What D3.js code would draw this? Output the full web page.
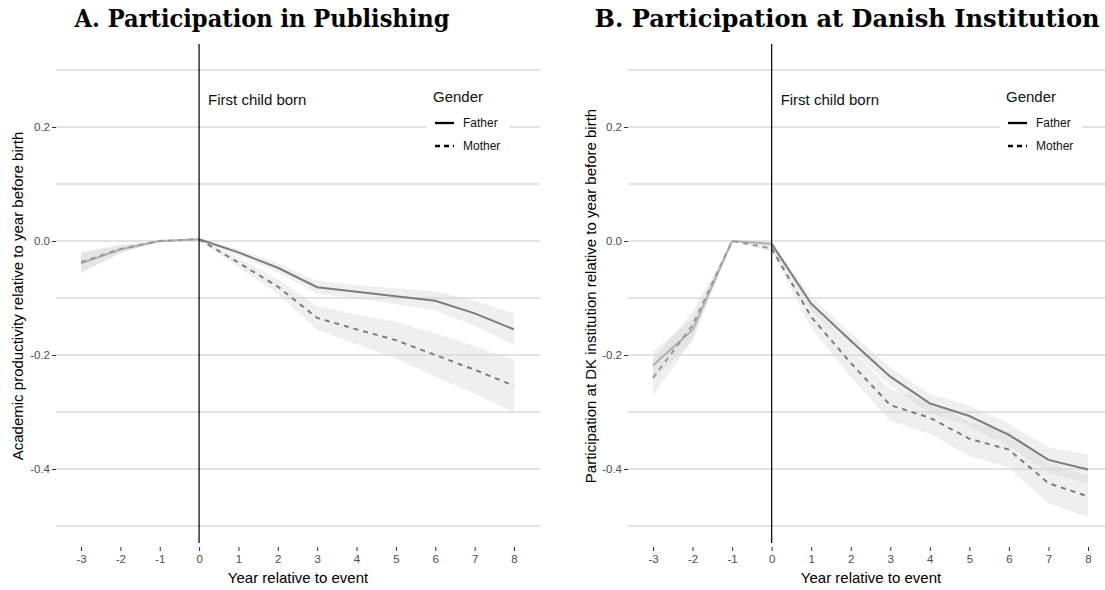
<!DOCTYPE html>
<html><head><meta charset="utf-8">
<script src="https://cdn.jsdelivr.net/npm/d3@7"></script>
<style>body{margin:0;background:#fff}svg{display:block}</style>
</head><body>
<svg id="c" width="1105" height="590"></svg>
<script>
const years = [-3,-2,-1,0,1,2,3,4,5,6,7,8];
const yTicks = [0.2,0.0,-0.2,-0.4];
const yGrid = [0.3,0.2,0.1,0.0,-0.1,-0.2,-0.3,-0.4,-0.5];
const genders = ["Father","Mother"];

// Panel A: Participation in Publishing
const pubFather   = [-0.039,-0.015,0,0.003,-0.020,-0.047,-0.081,-0.089,-0.097,-0.105,-0.127,-0.155];
const pubFatherLo = [-0.056,-0.022,0,0.001,-0.026,-0.055,-0.092,-0.101,-0.111,-0.122,-0.149,-0.183];
const pubFatherHi = [-0.022,-0.008,0,0.005,-0.014,-0.039,-0.070,-0.077,-0.083,-0.088,-0.105,-0.127];
const pubMother   = [-0.037,-0.014,0,0.003,-0.038,-0.080,-0.135,-0.155,-0.174,-0.200,-0.226,-0.254];
const pubMotherLo = [-0.055,-0.021,0,0.001,-0.046,-0.093,-0.156,-0.181,-0.206,-0.238,-0.268,-0.300];
const pubMotherHi = [-0.019,-0.007,0,0.005,-0.030,-0.067,-0.114,-0.129,-0.142,-0.162,-0.184,-0.208];

// Panel B: Participation at Danish Institution
const dkFather   = [-0.218,-0.156,0,-0.005,-0.110,-0.175,-0.238,-0.285,-0.307,-0.340,-0.384,-0.401];
const dkFatherLo = [-0.243,-0.176,0,-0.009,-0.122,-0.189,-0.254,-0.302,-0.325,-0.360,-0.406,-0.427];
const dkFatherHi = [-0.193,-0.136,0,-0.001,-0.098,-0.161,-0.222,-0.268,-0.289,-0.320,-0.362,-0.375];
const dkMother   = [-0.240,-0.148,0,-0.013,-0.133,-0.214,-0.288,-0.310,-0.347,-0.366,-0.425,-0.448];
const dkMotherLo = [-0.272,-0.172,0,-0.019,-0.153,-0.238,-0.316,-0.338,-0.377,-0.398,-0.460,-0.484];
const dkMotherHi = [-0.208,-0.124,0,-0.007,-0.113,-0.190,-0.260,-0.282,-0.317,-0.334,-0.390,-0.412];

const panels = [
  {title:"A. Participation in Publishing", ylab:"Academic productivity relative to year before birth",
   x0:81, x1:514, g0:56, g1:540, titleX:262, titleLen:375, ylabX:23, legX:433, xlabX:298,
   father:pubFather, fLo:pubFatherLo, fHi:pubFatherHi, mother:pubMother, mLo:pubMotherLo, mHi:pubMotherHi},
  {title:"B. Participation at Danish Institution", ylab:"Participation at DK institution relative to year before birth",
   x0:653, x1:1088, g0:628, g1:1105, titleX:847, titleLen:505, ylabX:596, legX:1006, xlabX:871,
   father:dkFather, fLo:dkFatherLo, fHi:dkFatherHi, mother:dkMother, mLo:dkMotherLo, mHi:dkMotherHi}
];

const svg = d3.select("#c");
const sans = "'Liberation Sans', Arial, sans-serif";
const y = d3.scaleLinear().domain([-0.4,0.2]).range([469,127]);
const hy = f => d => f(d).replace("\u2212","-");

panels.forEach(p => {
  const x = d3.scaleLinear().domain([-3,8]).range([p.x0,p.x1]);
  const g = svg.append("g");

  g.selectAll(".grid").data(yGrid).join("line")
    .attr("x1",p.g0).attr("x2",p.g1).attr("y1",d=>y(d)).attr("y2",d=>y(d))
    .attr("stroke","#c8c8c8").attr("stroke-width",1.1);

  const ya = g.append("g").attr("transform",`translate(${p.g0},0)`)
    .call(d3.axisLeft(y).tickValues(yTicks).tickFormat(hy(d3.format(".1f"))).tickSize(4).tickPadding(2));
  ya.select(".domain").remove();
  ya.selectAll("line").attr("stroke","#333");
  ya.selectAll("text").attr("font-family",sans).attr("font-size",11.5).attr("fill","#4d4d4d");

  const xa = g.append("g").attr("transform",`translate(0,547)`)
    .call(d3.axisBottom(x).tickValues(years).tickFormat(hy(d3.format("d"))).tickSize(4).tickPadding(4));
  xa.select(".domain").remove();
  xa.selectAll("line").attr("stroke","#333");
  xa.selectAll("text").attr("font-family",sans).attr("font-size",11.5).attr("fill","#4d4d4d");

  const area = (lo,hi) => d3.area().x((d,i)=>x(years[i])).y0((d,i)=>y(lo[i])).y1((d,i)=>y(hi[i]))(years);
  g.append("path").attr("d",area(p.fLo,p.fHi)).attr("fill","#d6d6d6").attr("opacity",0.4);
  g.append("path").attr("d",area(p.mLo,p.mHi)).attr("fill","#d6d6d6").attr("opacity",0.4);

  const pre = years.map((d,i)=>i).filter(i=>years[i]<=0);
  const post = years.map((d,i)=>i).filter(i=>years[i]>=0);
  const seg = (vals, idx) => d3.line().x(i=>x(years[i])).y(i=>y(vals[i]))(idx);

  g.append("path").attr("d",seg(p.father,pre)).attr("fill","none").attr("stroke","#b0b0b0").attr("stroke-width",2);
  g.append("path").attr("d",seg(p.father,post)).attr("fill","none").attr("stroke","#7c7c7c").attr("stroke-width",2);
  g.append("path").attr("d",seg(p.mother,pre)).attr("fill","none").attr("stroke","#9a9a9a").attr("stroke-width",2).attr("stroke-dasharray","5,5");
  g.append("path").attr("d",seg(p.mother,post)).attr("fill","none").attr("stroke","#7c7c7c").attr("stroke-width",2).attr("stroke-dasharray","5,5");

  g.append("line").attr("x1",x(0)).attr("x2",x(0)).attr("y1",44).attr("y2",543)
    .attr("stroke","#111").attr("stroke-width",1.3);
  g.append("text").attr("x",x(0)+9).attr("y",105).attr("font-family",sans).attr("font-size",15)
    .attr("fill","#111").text("First child born");

  g.append("rect").attr("x",p.legX-6).attr("y",82).attr("width",82).attr("height",78).attr("fill","#fff");
  g.append("text").attr("x",p.legX).attr("y",102).attr("font-family",sans).attr("font-size",15).attr("fill","#111").text("Gender");
  genders.forEach((k,i)=>{
    const ly = 123 + i*23;
    g.append("line").attr("x1",p.legX+2).attr("x2",p.legX+21).attr("y1",ly).attr("y2",ly)
      .attr("stroke","#000").attr("stroke-width",2.3).attr("stroke-dasharray",i?"5,4":null);
    g.append("text").attr("x",p.legX+30).attr("y",ly+4).attr("font-family",sans).attr("font-size",12).attr("fill","#111").text(k);
  });

  g.append("text").attr("x",p.titleX).attr("y",27).attr("text-anchor","middle")
    .attr("font-family","'DejaVu Serif', serif").attr("font-weight","bold").attr("font-size",24)
    .attr("textLength",p.titleLen).attr("lengthAdjust","spacingAndGlyphs").attr("fill","#000").text(p.title);
  g.append("text").attr("x",p.xlabX).attr("y",583).attr("text-anchor","middle")
    .attr("font-family",sans).attr("font-size",15).attr("fill","#000").text("Year relative to event");
  g.append("text").attr("transform",`translate(${p.ylabX},296) rotate(-90)`).attr("text-anchor","middle")
    .attr("font-family",sans).attr("font-size",15).attr("fill","#000").text(p.ylab);
});
</script>
</body></html>
